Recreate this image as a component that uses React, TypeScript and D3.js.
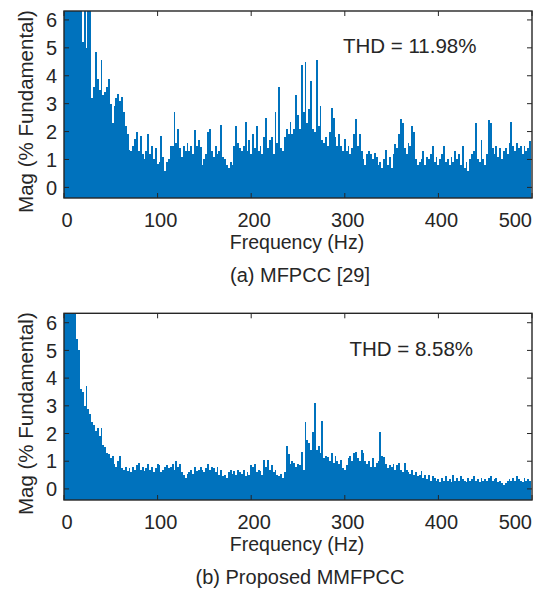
import React from "react";
import * as d3 from "d3";

// Spectrum bins are 2 Hz apart, starting at 0 Hz
const binHz = 2;

// (a) MFPCC [29] - harmonic magnitude, % of fundamental
const mfpccMag = [
  9.5, 8.2, 11.0, 7.4, 8.8, 7.9, 9.3, 6.9, 8.1, 7.2,
  5.2, 6.6, 5.0, 6.9, 7.0, 3.2, 3.6, 4.85, 3.9, 3.5,
  4.55, 3.3, 3.4, 3.6, 3.9, 3.0, 2.3, 2.9, 3.2, 3.35,
  3.1, 3.25, 2.7, 2.2, 1.9, 1.35, 1.3, 1.5, 1.75, 2.0,
  1.3, 1.85, 1.2, 1.0, 1.3, 1.9, 1.2, 1.5, 1.0, 1.4,
  0.85, 0.9, 1.85, 1.1, 0.6, 0.9, 1.0, 1.5, 1.5, 2.7,
  1.6, 2.1, 1.4, 1.1, 1.5, 1.3, 1.6, 1.3, 1.5, 1.2,
  2.05, 1.5, 1.7, 1.45, 0.8, 1.0, 1.2, 2.0, 2.1, 1.3,
  1.1, 1.5, 1.2, 1.3, 2.25, 1.1, 1.0, 0.8, 0.7, 0.9,
  0.8, 1.5, 2.2, 1.6, 1.4, 1.3, 1.5, 2.35, 1.3, 1.7,
  1.2, 1.9, 1.4, 2.2, 1.3, 1.5, 1.2, 1.8, 2.5, 1.4,
  1.7, 1.8, 1.2, 2.7, 1.6, 3.6, 1.4, 1.3, 1.8, 2.1,
  1.9, 2.35, 1.9, 2.1, 3.3, 2.6, 2.1, 4.4, 2.7, 4.5,
  2.3, 2.8, 3.8, 2.1, 2.0, 4.56, 2.2, 2.9, 1.7, 1.6,
  1.8, 1.5, 2.0, 2.85, 2.5, 1.8, 1.5, 1.9, 1.5, 1.3,
  1.75, 1.3, 1.5, 1.2, 1.4, 1.9, 2.45, 1.5, 1.9, 1.3,
  1.0, 0.8, 1.2, 1.3, 1.2, 1.0, 1.25, 1.1, 0.8, 0.9,
  0.7, 1.0, 1.35, 0.8, 1.1, 0.7, 1.2, 1.55, 1.4, 1.9,
  2.45, 2.3, 1.4, 1.2, 1.6, 1.5, 2.2, 2.0, 1.0, 0.8,
  0.9, 1.0, 1.3, 0.8, 1.1, 1.0, 1.2, 1.5, 0.9, 1.1,
  0.8, 1.0, 1.2, 1.5, 0.9, 1.0, 0.8, 1.1, 0.9, 1.3,
  1.0, 1.2, 0.8, 1.5, 0.7, 0.9, 0.6, 1.0, 1.2, 1.3,
  2.3, 1.0, 0.9, 1.7, 1.0, 0.8, 1.2, 2.4, 2.3, 1.4,
  1.2, 1.5, 1.1, 1.4, 1.0, 1.3, 1.4, 1.2, 1.6, 2.35,
  1.5, 1.3, 1.6, 1.4, 1.5, 1.2, 1.5, 1.3, 1.4, 1.65,
];

// (b) Proposed MMFPCC
const mmfpccMag = [
  12.0, 10.0, 9.5, 8.8, 8.0, 7.2, 6.6, 5.4, 5.0, 3.6,
  3.5, 3.0, 3.7, 2.9, 2.7, 2.4, 2.3, 2.1, 2.2, 1.9,
  2.2, 1.6, 1.5, 1.3, 1.25, 1.1, 1.2, 0.9, 0.8, 1.0,
  1.2, 0.75, 0.7, 0.8, 0.65, 0.75, 0.6, 0.8, 0.7, 0.85,
  0.95, 0.7, 0.8, 0.65, 0.75, 0.9, 0.7, 0.8, 0.6, 0.75,
  0.9, 0.85, 0.6, 0.7, 0.8, 0.85, 0.75, 0.8, 0.9, 0.7,
  1.0, 0.8, 0.9, 0.6, 0.5, 0.4, 0.55, 0.6, 0.7, 0.55,
  0.8, 0.65, 0.7, 0.8, 0.7, 0.6, 0.75, 0.9, 0.7, 0.8,
  0.75, 0.6, 0.8, 0.5, 0.7, 0.45, 0.5, 0.4, 0.6, 0.7,
  0.55, 0.65, 0.5, 0.7, 0.6, 0.55, 0.7, 0.45, 0.6, 0.5,
  0.85, 0.8, 0.9, 0.6, 0.7, 0.65, 0.5, 1.05, 0.8, 1.05,
  0.7, 0.85, 0.6, 0.7, 0.5, 0.45, 0.55, 0.4, 0.6, 1.55,
  1.25, 0.9, 1.0, 0.95, 0.8, 0.9, 0.85, 1.35, 0.7, 2.4,
  1.75, 1.65, 1.4, 2.05, 3.1, 1.4, 1.55, 1.3, 2.45, 1.1,
  1.2, 1.15, 1.0, 1.3, 0.95, 1.2, 1.0, 0.9, 1.05, 0.75,
  0.7, 0.85, 1.1, 1.2, 1.0, 1.3, 1.35, 1.1, 1.0, 1.4,
  1.3, 1.0, 0.9, 1.0, 0.8, 1.1, 0.8, 0.95, 1.0, 2.05,
  1.2, 1.15, 0.9, 0.75, 0.85, 0.8, 0.9, 0.7, 0.85, 0.95,
  0.7, 0.6, 0.95, 0.7, 0.6, 0.55, 0.7, 0.5, 0.6, 0.45,
  0.5, 0.65, 0.4, 0.5, 0.35, 0.5, 0.3, 0.45, 0.4, 0.3,
  0.35, 0.25, 0.4, 0.3, 0.45, 0.3, 0.35, 0.25, 0.5, 0.3,
  0.4, 0.3, 0.45, 0.35, 0.3, 0.25, 0.4, 0.3, 0.35, 0.45,
  0.3, 0.35, 0.25, 0.4, 0.3, 0.35, 0.3, 0.4, 0.45, 0.3,
  0.35, 0.4, 0.25, 0.3, 0.2, 0.15, 0.2, 0.3, 0.35, 0.3,
  0.4, 0.3, 0.45, 0.35, 0.3, 0.25, 0.4, 0.3, 0.35, 0.3,
];

const xTicks = [0, 100, 200, 300, 400, 500];
const yTicks = [0, 1, 2, 3, 4, 5, 6];

const barColour = "#0072BD";
const ink = "#262626";
const font = "'Liberation Sans', Arial, Helvetica, sans-serif";
const plotLeft = 64;
const plotRight = 532;

const Panel = ({ id, mag, top, bottom, yDomain, thd, thdHz, caption }) => {
  const x = d3.scaleLinear().domain([0, 500]).range([plotLeft, plotRight]);
  const y = d3.scaleLinear().domain(yDomain).range([bottom, top]);
  const w = x(binHz) - x(0);
  const midY = (top + bottom) / 2;
  const midX = (plotLeft + plotRight) / 2;

  return (
    <g fontFamily={font} fill={ink}>
      <defs>
        <clipPath id={id}>
          <rect x={plotLeft} y={top} width={plotRight - plotLeft} height={bottom - top} />
        </clipPath>
      </defs>

      {/* bars, from the bottom of the axes up */}
      <g clipPath={`url(#${id})`} shapeRendering="crispEdges">
        {mag.map((v, i) => (
          <rect
            key={i}
            x={x(i * binHz) - w / 2}
            y={y(v)}
            width={w}
            height={bottom - y(v)}
            fill={barColour}
          />
        ))}
      </g>

      {/* ticks, inward on all four sides */}
      <g stroke={ink} strokeWidth={1}>
        {yTicks.map((t) => (
          <g key={"y" + t}>
            <line x1={plotLeft} x2={plotLeft + 5} y1={y(t)} y2={y(t)} />
            <line x1={plotRight - 5} x2={plotRight} y1={y(t)} y2={y(t)} />
          </g>
        ))}
        {xTicks.map((t) => (
          <g key={"x" + t}>
            <line x1={x(t)} x2={x(t)} y1={bottom} y2={bottom - 5} />
            <line x1={x(t)} x2={x(t)} y1={top} y2={top + 5} />
          </g>
        ))}
      </g>
      <rect
        x={plotLeft}
        y={top}
        width={plotRight - plotLeft}
        height={bottom - top}
        fill="none"
        stroke={ink}
        strokeWidth={1.4}
      />

      {/* tick labels */}
      {yTicks.map((t) => (
        <text key={"yl" + t} x={plotLeft - 7} y={y(t)} dy="0.36em" textAnchor="end" fontSize={20}>
          {t}
        </text>
      ))}
      {xTicks.map((t, i) => {
        const last = i === xTicks.length - 1;
        return (
          <text
            key={"xl" + t}
            x={last ? x(t) : x(t) + 3}
            y={bottom + 28.5}
            textAnchor={last ? "end" : "middle"}
            fontSize={20}
          >
            {t}
          </text>
        );
      })}

      <text
        transform={`translate(33, ${midY + 7}) rotate(-90)`}
        textAnchor="middle"
        fontSize={20.5}
      >
        Mag (% Fundamental)
      </text>
      <text x={midX - 1} y={bottom + 50.5} textAnchor="middle" fontSize={19.5}>
        Frequency (Hz)
      </text>
      <text x={midX + 2} y={bottom + 84} textAnchor="middle" fontSize={20}>
        {caption}
      </text>
      <text x={x(thdHz)} y={y(4.8)} fontSize={20.5}>
        {thd}
      </text>
    </g>
  );
};

export default function App() {
  return (
    <svg
      width={543}
      height={591}
      style={{ position: "absolute", left: 0, top: 0, background: "#fff" }}
    >
      <Panel
        id="clipA"
        mag={mfpccMag}
        top={11}
        bottom={198}
        yDomain={[-0.38, 6.32]}
        thd="THD = 11.98%"
        thdHz={298}
        caption="(a) MFPCC [29]"
      />
      <Panel
        id="clipB"
        mag={mmfpccMag}
        top={313.3}
        bottom={500}
        yDomain={[-0.4, 6.34]}
        thd="THD = 8.58%"
        thdHz={305}
        caption="(b) Proposed MMFPCC"
      />
    </svg>
  );
}
